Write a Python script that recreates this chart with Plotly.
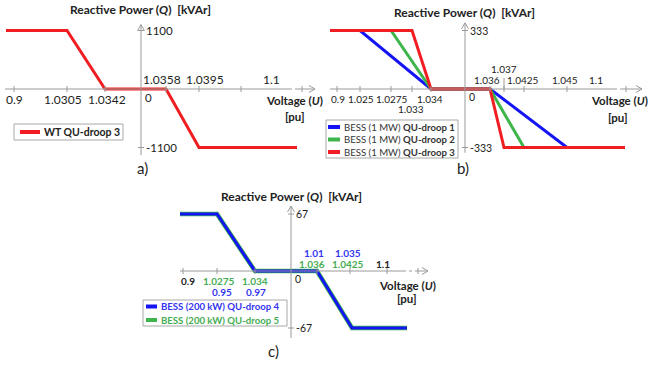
import plotly.graph_objects as go

W, H = 648, 367
FONT = "Lato"
RED, BLUE, GREEN = "#f01e23", "#1414f5", "#3db54a"
TBLUE, TGREEN = "#3535f0", "#45ad52"
AX = "#9a9a9a"
TXT = "#222222"

# ---------------- data (schematic voltage position u, reactive power Q) ----------------
# Panel a: WT QU-droop 3 (Q in kVAr)
a_qmax = 1100
a_u = [-135, -74, -36, 25, 58, 156]
a_q = [1100, 1100, 0, 0, -1100, -1100]
a_ticks_u = [-127, -74, -36, 25, 58, 100, 161]
a_labels = ["0.9", "1.0305", "1.0342", "1.0358", "1.0395", "1.1"]
a_labels_u = [-127, -78, -34, 21, 64, 130]
a_labels_row = [-1, -1, -1, 1, 1, 1]

# Panel b: BESS (1 MW) QU-droop 1..3
b_qmax = 333
b1_u = [-135, -105, -34, 25, 102, 160]
b2_u = [-135, -74, -34, 25, 59, 160]
b3_u = [-135, -53, -34, 25, 39, 160]
b_q = [333, 333, 0, 0, -333, -333]
b_ticks_u = [-128, -105, -74, -53, -34, 25, 39, 59, 102, 161]
b_labels = ["0.9", "1.025", "1.0275", "1.034", "1.033", "1.036", "1.037", "1.0425", "1.045", "1.1"]
b_labels_u = [-127, -104, -73, -35, -54, 22, 39, 58, 100, 131]
b_labels_row = [-1, -1, -1, -1, -2, 1, 2, 1, 1, 1]

# Panel c: BESS (200 kW) QU-droop 4 / 5
c_qmax = 67
c4_u = [-111, -74, -36, 26, 61, 116]
c5_u = [-111, -74, -36, 26, 61, 116]
c_q = [67, 67, 0, 0, -67, -67]
c_ticks_u = [-108, -74, -36, 26, 59, 96, 127]
c_labels = ["0.9", "1.0275", "0.95", "1.034", "0.97", "1.01", "1.036", "1.035", "1.0425", "1.1"]
c_labels_u = [-103, -72, -69, -36, -35, 23, 21, 57, 57, 92]
c_labels_row = [-1, -1, -2, -1, -2, 2, 1, 2, 1, 1]
c_labels_col = ["k", "g", "b", "g", "b", "b", "g", "b", "g", "k"]

fig = go.Figure()
shapes = []
ann = []

panels = {
    "a": dict(ax="", ox=141, oy=89, ppq=58.5, qmax=a_qmax, fs=12, ys=11.5,
              xl=-136, xd0=142, xd1=156, xr=174, yt=1.10, yb=1.13),
    "b": dict(ax="2", ox=465, oy=89, ppq=58.5, qmax=b_qmax, fs=10, ys=10.5,
              xl=-135, xd0=143, xd1=155, xr=177, yt=1.13, yb=1.09),
    "c": dict(ax="3", ox=291, oy=271, ppq=57.0, qmax=c_qmax, fs=10, ys=10.5,
              xl=-111, xd0=106, xd1=126, xr=137, yt=1.14, yb=1.175),
}

layout_axes = {}
for key, p in panels.items():
    s = p["qmax"] / p["ppq"]
    layout_axes["xaxis" + p["ax"]] = dict(domain=[0, 1], range=[-p["ox"], W - p["ox"]],
                                          visible=False, fixedrange=True)
    layout_axes["yaxis" + p["ax"]] = dict(domain=[0, 1], range=[(p["oy"] - H) * s, p["oy"] * s],
                                          visible=False, fixedrange=True)
    if p["ax"]:
        layout_axes["xaxis" + p["ax"]]["anchor"] = "y" + p["ax"]
        layout_axes["yaxis" + p["ax"]]["anchor"] = "x" + p["ax"]
    xr, yr = "x" + p["ax"], "y" + p["ax"]
    q = p["qmax"]
    for x0, x1, dash in [(p["xl"], p["xd0"], "solid"), (p["xd0"], p["xd1"], "dashdot"),
                         (p["xd1"], p["xr"], "solid")]:
        shapes.append(dict(type="line", xref=xr, yref=yr, x0=x0, x1=x1, y0=0, y1=0,
                           line=dict(color=AX, width=1, dash=dash)))
    for dy in (3.5, -3.5):
        shapes.append(dict(type="line", xref=xr, yref=yr, xsizemode="pixel", ysizemode="pixel",
                           xanchor=p["xr"], yanchor=0, x0=0, y0=0, x1=-6, y1=dy,
                           line=dict(color=AX, width=1)))
    shapes.append(dict(type="line", xref=xr, yref=yr, x0=0, x1=0, y0=-p["yb"] * q, y1=p["yt"] * q,
                       line=dict(color=AX, width=1)))
    for dx in (3.5, -3.5):
        shapes.append(dict(type="line", xref=xr, yref=yr, xsizemode="pixel", ysizemode="pixel",
                           xanchor=0, yanchor=p["yt"] * q, x0=0, y0=0, x1=dx, y1=-6,
                           line=dict(color=AX, width=1)))
    for qq in (q, -q):
        shapes.append(dict(type="line", xref=xr, yref=yr, xsizemode="pixel", xanchor=0,
                           x0=-3, x1=3, y0=qq, y1=qq, line=dict(color=AX, width=1)))
        ann.append(dict(xref=xr, yref=yr, x=0, y=qq, xshift=3, text=f"{qq:d}", showarrow=False,
                        xanchor="left", yanchor="middle",
                        font=dict(family=FONT, size=p["ys"], color=TXT)))
    ann.append(dict(xref=xr, yref=yr, x=0, y=0, xshift=2, yshift=-8, text="0", showarrow=False,
                    xanchor="left", yanchor="middle", font=dict(family=FONT, size=p["ys"], color=TXT)))

ROWSHIFT = {"a": {-1: -10, 1: 10}, "b": {-1: -10, -2: -20, 1: 9, 2: 20},
            "c": {-1: -10, -2: -21, 1: 7, 2: 18}}
COLMAP = {"k": TXT, "g": TGREEN, "b": TBLUE}


def ticks(key, tu):
    p = panels[key]
    for u in tu:
        shapes.append(dict(type="line", xref="x" + p["ax"], yref="y" + p["ax"], ysizemode="pixel",
                           yanchor=0, x0=u, x1=u, y0=-3, y1=3, line=dict(color=AX, width=1)))


def labels(key, texts, us, rows, cols=None, bold=False):
    p = panels[key]
    for i, (t, u, r) in enumerate(zip(texts, us, rows)):
        col = COLMAP[cols[i]] if cols else TXT
        ann.append(dict(xref="x" + p["ax"], yref="y" + p["ax"], x=u, y=0, yshift=ROWSHIFT[key][r],
                        text=f"<b>{t}</b>" if bold else t, showarrow=False, xanchor="center",
                        yanchor="middle", font=dict(family=FONT, size=p["fs"], color=col)))


ticks("a", a_ticks_u)
ticks("b", b_ticks_u)
ticks("c", c_ticks_u)
labels("a", a_labels, a_labels_u, a_labels_row)
labels("b", b_labels, b_labels_u, b_labels_row)
labels("c", c_labels, c_labels_u, c_labels_row, c_labels_col, bold=True)
shapes.append(dict(type="line", xref="x2", yref="y2", ysizemode="pixel", yanchor=0,
                   x0=39, x1=39, y0=0, y1=11, line=dict(color=AX, width=1)))

# ---------------- curves ----------------
fig.add_trace(go.Scatter(x=a_u, y=a_q, mode="lines", line=dict(color=RED, width=3),
                         xaxis="x", yaxis="y", showlegend=False, hoverinfo="skip"))
for uu, col in [(b1_u, BLUE), (b2_u, GREEN), (b3_u, RED)]:
    fig.add_trace(go.Scatter(x=uu, y=b_q, mode="lines", line=dict(color=col, width=3),
                             xaxis="x2", yaxis="y2", showlegend=False, hoverinfo="skip"))
fig.add_trace(go.Scatter(x=c5_u, y=c_q, mode="lines", line=dict(color=GREEN, width=4.5),
                         xaxis="x3", yaxis="y3", showlegend=False, hoverinfo="skip"))
fig.add_trace(go.Scatter(x=c4_u, y=c_q, mode="lines", line=dict(color=BLUE, width=3),
                         xaxis="x3", yaxis="y3", showlegend=False, hoverinfo="skip"))


def txt(px, py, t, size=12, color=TXT, xa="center"):
    ann.append(dict(xref="paper", yref="paper", x=px / W, y=1 - py / H, text=t, showarrow=False,
                    xanchor=xa, yanchor="middle", font=dict(family=FONT, size=size, color=color)))


TITLE = "<b>Reactive Power (<i>Q</i>)  [kVAr]</b>"
txt(140, 10, TITLE, size=12)
txt(464, 13, TITLE, size=12)
txt(291, 196, TITLE, size=12)
for lx, ly, px2, ly2 in [(264, 101, 295, 117), (589, 100, 618, 118), (377, 285, 407, 298)]:
    txt(lx, ly, "<b>Voltage (<i>U</i>)</b>", size=11.5, xa="left")
    txt(px2, ly2, "<b>[pu]</b>", size=11.5)
txt(142, 168, "a)", size=15)
txt(463, 168, "b)", size=15)
txt(273, 351, "c)", size=15)


def legend_box(x0, y0, x1, y1):
    shapes.append(dict(type="rect", xref="paper", yref="paper", x0=x0 / W, x1=x1 / W,
                       y0=1 - y1 / H, y1=1 - y0 / H, line=dict(color="#a8a8a8", width=1),
                       fillcolor="white", layer="below"))


def legend_item(lx0, lx1, y, col, text, tcol=TXT, size=10):
    shapes.append(dict(type="line", xref="paper", yref="paper", x0=lx0 / W, x1=lx1 / W,
                       y0=1 - y / H, y1=1 - y / H, line=dict(color=col, width=4)))
    txt(lx1 + 2, y, text, size=size, color=tcol, xa="left")


legend_box(14, 124, 123, 140)
legend_item(20, 40, 132, RED, "<b>WT QU-droop 3</b>", size=10.5)
legend_box(326, 120, 458, 158)
for y, col, n in [(127, BLUE, 1), (139.5, GREEN, 2), (152, RED, 3)]:
    legend_item(328, 340, y, col, f"BESS (1 MW) <b>QU-droop {n}</b>", "#333333", size=9.6)
legend_box(143, 300, 287, 326)
legend_item(146, 157, 306.5, BLUE, "<b>BESS (200 kW) QU-droop 4</b>", TBLUE, size=9.6)
legend_item(146, 157, 320, GREEN, "<b>BESS (200 kW) QU-droop 5</b>", TGREEN, size=9.6)

fig.update_layout(width=W, height=H, margin=dict(l=0, r=0, t=0, b=0, pad=0),
                  paper_bgcolor="white", plot_bgcolor="rgba(0,0,0,0)",
                  shapes=shapes, annotations=ann, **layout_axes)
fig.write_html("out.html", config={"displayModeBar": False},
               post_script="document.body.style.margin='0';document.body.style.padding='0';")
